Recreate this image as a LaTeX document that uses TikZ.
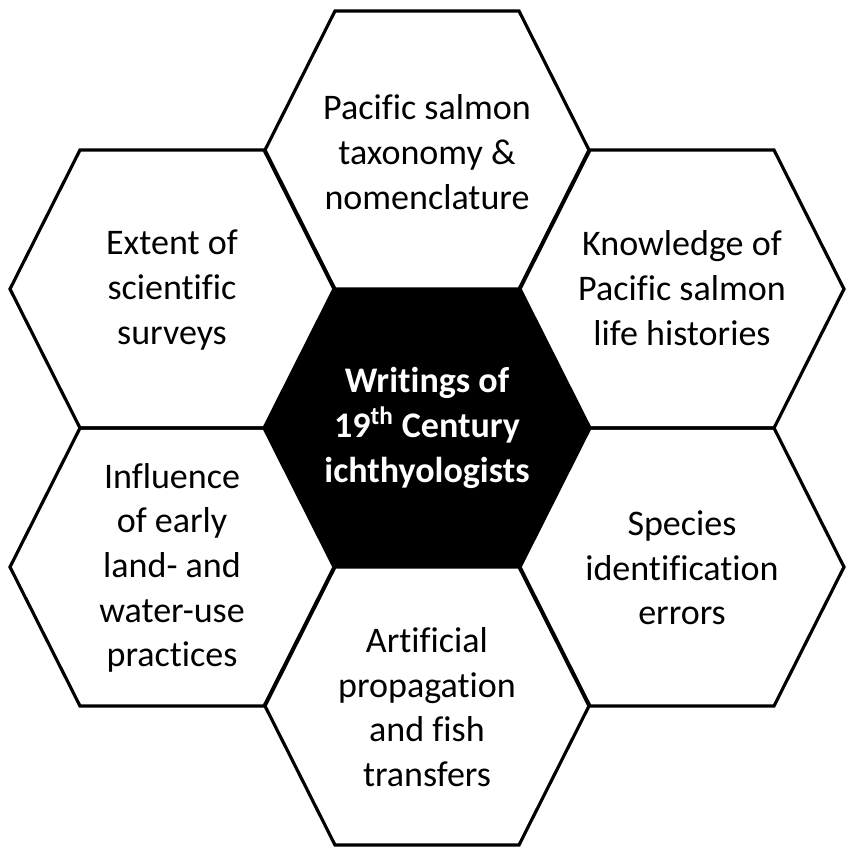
\documentclass[tikz,border=0pt]{standalone}
\usepackage{fontspec}
\setmainfont{Carlito}[Ligatures=NoCommon]
\usetikzlibrary{positioning}

\tikzset{
    cellline/.style={line width=1.8pt, line join=miter},
    celltext/.style={align=center, font=\fontsize{20.5}{25.4}\selectfont}
}

\begin{document}
\begin{tikzpicture}[x=0.2mm, y=-0.2mm]
    \useasboundingbox (0,0) rectangle (847,848);

    % Outer ring of cells
    \foreach \cx/\cy in {427/150, 172/289, 682/289, 172/567, 682/567, 427/706}
        \draw[cellline] (\cx,\cy) ++(-162,0) -- ++(70,-139) -- ++(184,0)
            -- ++(70,139) -- ++(-70,139) -- ++(-184,0) -- cycle;

    % Centre cell
    \fill[black, cellline] (427,428) ++(-162,0) -- ++(70,-139) -- ++(184,0)
        -- ++(70,139) -- ++(-70,139) -- ++(-184,0) -- cycle;
    \node[celltext, white, font=\fontsize{20.5}{25.4}\selectfont\bfseries] (writings) at (427,428)
        {Writings of\\19\textsuperscript{th} Century\\ichthyologists};

    % Labels
    \node[celltext] (taxonomy) at (427,152) {Pacific salmon\\taxonomy \&\\nomenclature};
    \node[celltext] (surveys) at (172,290) {Extent of\\scientific\\surveys};
    \node[celltext] (lifeHist) at (682,288) {Knowledge of\\Pacific salmon\\life histories};
    \node[celltext] (landUse) at (172,568) {Influence\\of early\\land- and\\water-use\\practices};
    \node[celltext] (speciesErr) at (682,568) {Species\\identification\\errors};
    \node[celltext] (propagation) at (427,707) {Artificial\\propagation\\and fish\\transfers};
\end{tikzpicture}
\end{document}
